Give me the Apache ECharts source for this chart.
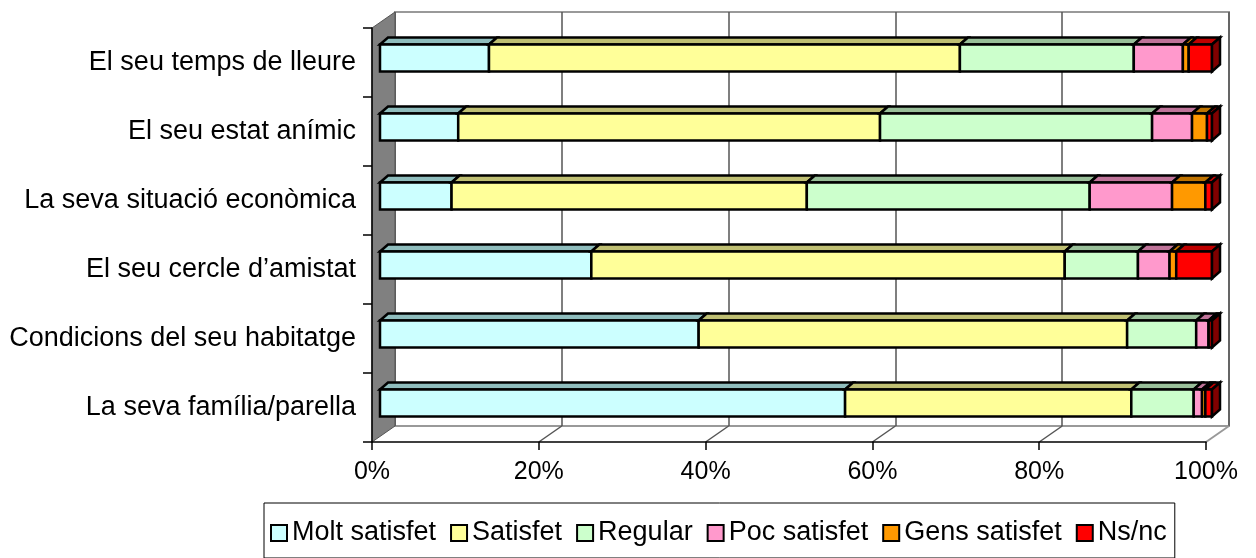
<!DOCTYPE html>
<html>
<head>
<meta charset="utf-8">
<script src="https://cdn.jsdelivr.net/npm/echarts@6/dist/echarts.min.js"></script>
<style>
  html, body { margin: 0; padding: 0; background: #fff; }
  #main { width: 1256px; height: 558px; }
</style>
</head>
<body>
<div id="main"></div>
<script>
// categories, top to bottom
var categories = [
  'El seu temps de lleure',
  'El seu estat anímic',
  'La seva situació econòmica',
  'El seu cercle d’amistat',
  'Condicions del seu habitatge',
  'La seva família/parella'
];
var seriesNames = ['Molt satisfet', 'Satisfet', 'Regular', 'Poc satisfet', 'Gens satisfet', 'Ns/nc'];

// percentatges llegits del gràfic
var moltSatisfet = [13.1, 9.4, 8.6, 25.4, 38.3, 55.9];
var satisfet     = [56.6, 50.7, 42.7, 56.9, 51.5, 34.4];
var regular      = [20.9, 32.7, 34.0, 8.8, 8.3, 7.5];
var pocSatisfet  = [5.9, 4.8, 9.9, 3.8, 1.5, 1.0];
var gensSatisfet = [0.7, 1.8, 4.0, 0.8, 0.0, 0.4];
var nsnc         = [2.8, 0.6, 0.8, 4.3, 0.4, 0.8];
var xTicks = [0, 20, 40, 60, 80, 100];

var seriesValues = [moltSatisfet, satisfet, regular, pocSatisfet, gensSatisfet, nsnc];

// colors: front face, top face, right side
var frontColors = ['#CCFFFF', '#FFFF99', '#CCFFCC', '#FF99CC', '#FF9900', '#FF0000'];
var topColors = ['#8FBDBD', '#BFBF73', '#99BF99', '#BF7399', '#BF7300', '#BF0000'];
var sideColor = '#800000';

// layout of the fake 3D box
var FRONT = { left: 372, top: 28, width: 834, height: 414 };
var BACK = { left: 395, top: 12, width: 834, height: 414 };
var BARS = { left: 380, top: 23.5, width: 832, height: 414 };
var BAR_H = 27, DX = 8, DY = 7, EDGE = 2.5;
var FONT = 'Liberation Sans';

function renderSeg(idx) {
  return function (params, api) {
    var cat = api.value(0);
    var p0 = api.coord([api.value(1), cat]);
    var p1 = api.coord([api.value(2), cat]);
    var x0 = p0[0], x1 = p1[0];
    var y0 = p0[1] - BAR_H / 2, y1 = p0[1] + BAR_H / 2;
    var children = [{
      type: 'polygon',
      shape: { points: [[x0, y0], [x0 + DX, y0 - DY], [x1 + DX, y0 - DY], [x1, y0]] },
      style: { fill: topColors[idx], stroke: '#000', lineWidth: EDGE, lineJoin: 'miter' }
    }, {
      type: 'rect',
      shape: { x: x0, y: y0, width: x1 - x0, height: BAR_H },
      style: { fill: frontColors[idx], stroke: '#000', lineWidth: EDGE }
    }];
    if (idx === seriesValues.length - 1) { // cara lateral
      children.push({
        type: 'polygon',
        shape: { points: [[x1, y0], [x1 + DX, y0 - DY], [x1 + DX, y1 - DY], [x1, y1]] },
        style: { fill: sideColor, stroke: '#000', lineWidth: EDGE }
      });
    }
    return { type: 'group', children: children };
  };
}

// stacked start/end for each segment
var series = [];
var acc = categories.map(function () { return 0; });
seriesValues.forEach(function (vals, s) {
  var data = vals.map(function (v, i) {
    var item = [i, acc[i], acc[i] + v];
    acc[i] += v;
    return item;
  });
  series.push({
    name: seriesNames[s],
    type: 'custom',
    xAxisIndex: 2,
    yAxisIndex: 2,
    clip: false,
    z: 10,
    itemStyle: { color: frontColors[s] },
    encode: { x: [1, 2], y: 0 },
    renderItem: renderSeg(s),
    data: data
  });
});

var chart = echarts.init(document.getElementById('main'));

chart.setOption({
  animation: false,
  backgroundColor: '#fff',
  grid: [
    Object.assign({ containLabel: false }, FRONT),
    Object.assign({ show: true, borderColor: '#999', borderWidth: 2, backgroundColor: 'transparent' }, BACK),
    BARS
  ],
  xAxis: [{
    gridIndex: 0, type: 'value', min: 0, max: 100, interval: 20, z: 3,
    axisLine: { show: true, lineStyle: { color: '#000', width: 1.5 } },
    axisTick: { show: true, length: 8, lineStyle: { color: '#000', width: 1.5 } },
    axisLabel: { formatter: '{value}%', fontSize: 25, fontFamily: FONT, color: '#000', margin: 18 },
    splitLine: { show: false }
  }, {
    gridIndex: 1, type: 'value', min: 0, max: 100, interval: 20,
    axisLine: { show: false }, axisTick: { show: false }, axisLabel: { show: false },
    splitLine: { show: true, lineStyle: { color: '#555', width: 1.5 } }
  }, {
    gridIndex: 2, type: 'value', min: 0, max: 100, show: false
  }],
  yAxis: [{
    gridIndex: 0, type: 'category', data: categories, inverse: true, z: 3,
    axisLine: { show: true, lineStyle: { color: '#000', width: 1.5 } },
    axisTick: { show: true, length: 9, lineStyle: { color: '#000', width: 1.5 } },
    axisLabel: { fontSize: 27, fontFamily: FONT, color: '#000', margin: 16 }
  }, {
    gridIndex: 1, type: 'category', data: categories, inverse: true, show: false
  }, {
    gridIndex: 2, type: 'category', data: categories, inverse: true, show: false
  }],
  legend: {
    data: seriesNames,
    left: 264,
    top: 503,
    padding: [15, 8, 10, 6],
    itemGap: 14,
    itemWidth: 16,
    itemHeight: 16,
    icon: 'rect',
    itemStyle: { borderColor: '#000', borderWidth: 2 },
    borderColor: '#000',
    borderWidth: 1,
    textStyle: { fontSize: 27, fontFamily: FONT, color: '#000', lineHeight: 30 }
  },
  series: series
});

// wall and floor of the 3D box, placed from the axis scales
var floorBack = BACK.top + BACK.height;
var floorFront = FRONT.top + FRONT.height;
var graphics = [];
var f0 = chart.convertToPixel({ xAxisIndex: 0 }, 0);
var b0 = chart.convertToPixel({ xAxisIndex: 1 }, 0);
graphics.push({
  type: 'polygon', z: 1,
  shape: { points: [[f0, FRONT.top], [b0, BACK.top], [b0, floorBack], [f0, floorFront]] },
  style: { fill: '#808080', stroke: '#555', lineWidth: 1 }
});
xTicks.forEach(function (v) {
  if (v === 0) return;
  var fx = chart.convertToPixel({ xAxisIndex: 0 }, v);
  var bx = chart.convertToPixel({ xAxisIndex: 1 }, v);
  var last = v === xTicks[xTicks.length - 1];
  graphics.push({
    type: 'line', z: 1,
    shape: { x1: bx, y1: floorBack, x2: fx, y2: floorFront },
    style: { stroke: last ? '#999' : '#555', lineWidth: last ? 2 : 1.5 }
  });
});
chart.setOption({ graphic: graphics });
</script>
</body>
</html>
